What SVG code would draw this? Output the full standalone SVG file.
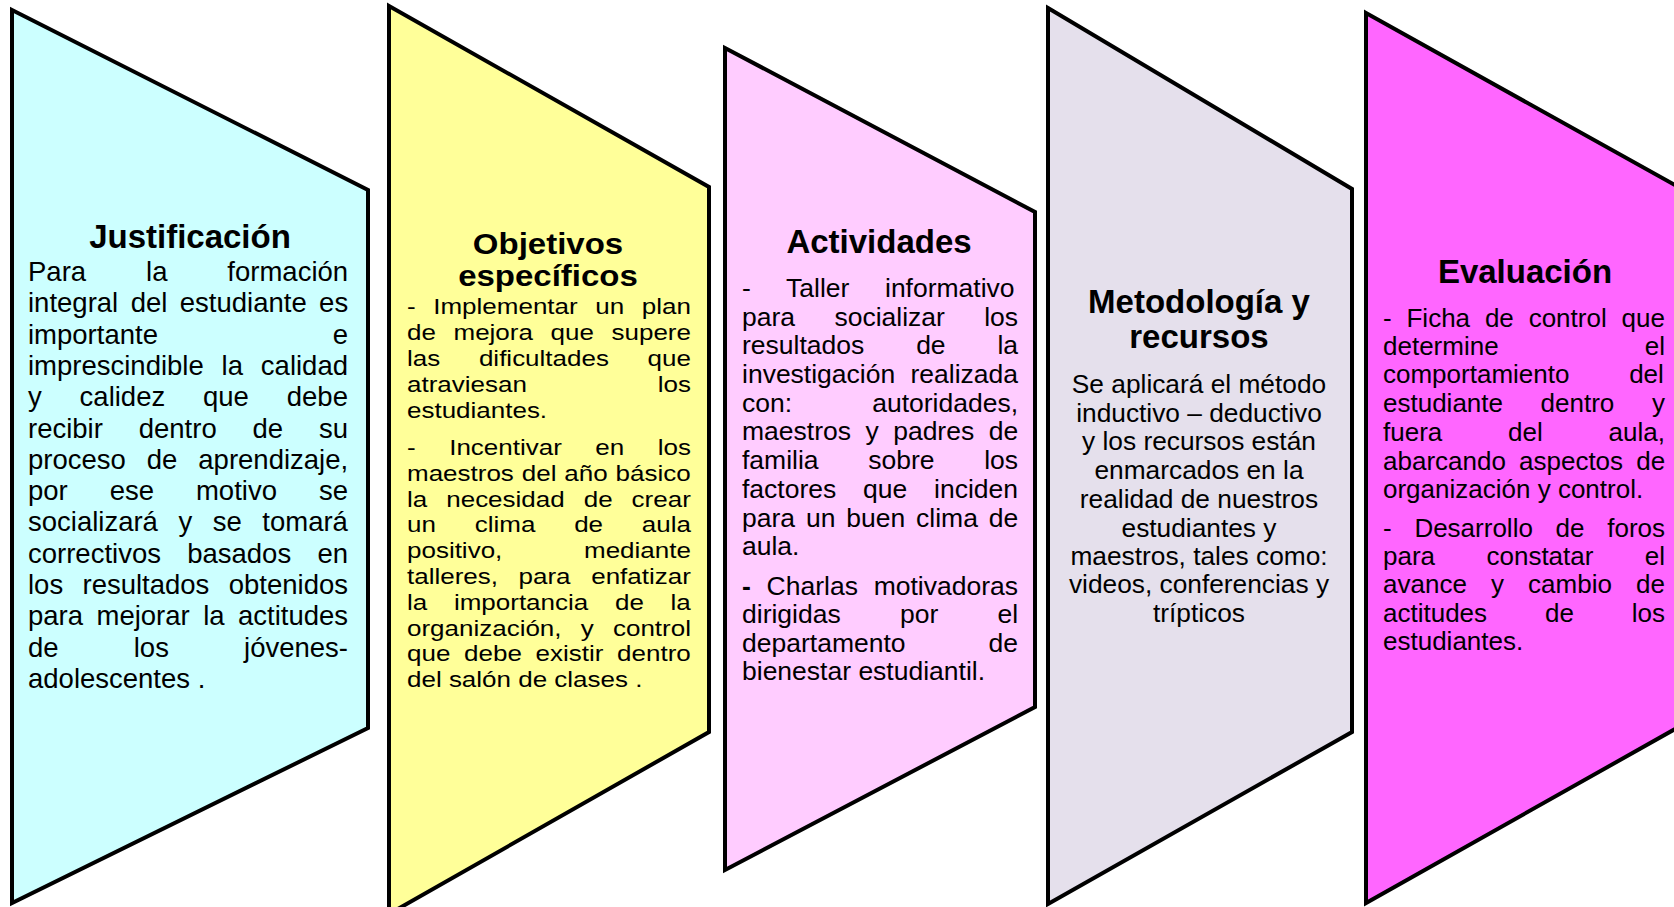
<svg xmlns="http://www.w3.org/2000/svg" width="1674" height="907" viewBox="0 0 1674 907">
<style>
.shape{stroke:#000;stroke-width:4;stroke-linejoin:miter}
.t{font-family:"Liberation Sans",Arial,sans-serif;font-weight:bold;font-size:33px;fill:#000;text-anchor:middle}
.b1{font-family:"Liberation Sans",Arial,sans-serif;font-size:27.5px;fill:#000}
.b2{font-family:"Liberation Sans",Arial,sans-serif;font-size:26px;fill:#000}
.b3{font-family:"Liberation Sans",Arial,sans-serif;font-size:26.5px;fill:#000}
.b4{font-family:"Liberation Sans",Arial,sans-serif;font-size:26.3px;fill:#000;text-anchor:middle}
.b5{font-family:"Liberation Sans",Arial,sans-serif;font-size:26px;fill:#000}
</style>
<rect width="1674" height="907" fill="#fff"/>
<g id="connectors"/>
<g id="justificacion">
<polygon class="shape" fill="#CCFFFF" points="12,10 368,190 368,728 12,903"/>
<text class="t" x="190" y="248">Justificación</text>
<text class="b1" x="28" y="281" word-spacing="52.3">Para la formación</text>
<text class="b1" x="28" y="312.3" word-spacing="4.8">integral del estudiante es</text>
<text class="b1" x="28" y="343.6" word-spacing="167.1">importante e</text>
<text class="b1" x="28" y="374.9" word-spacing="10.2">imprescindible la calidad</text>
<text class="b1" x="28" y="406.2" word-spacing="30.2">y calidez que debe</text>
<text class="b1" x="28" y="437.5" word-spacing="28.2">recibir dentro de su</text>
<text class="b1" x="28" y="468.8" word-spacing="13.3">proceso de aprendizaje,</text>
<text class="b1" x="28" y="500.1" word-spacing="34.3">por ese motivo se</text>
<text class="b1" x="28" y="531.4" word-spacing="12.9">socializará y se tomará</text>
<text class="b1" x="28" y="562.7" word-spacing="18.6">correctivos basados en</text>
<text class="b1" x="28" y="594" word-spacing="11.7">los resultados obtenidos</text>
<text class="b1" x="28" y="625.3" word-spacing="5.8">para mejorar la actitudes</text>
<text class="b1" x="28" y="656.6" word-spacing="67.5">de los jóvenes-</text>
<text class="b1" x="28" y="687.9">adolescentes .</text>
</g>
<g id="objetivos">
<polygon class="shape" fill="#FFFF99" points="389,6 709,187 709,732 389,914"/>
<g transform="matrix(1 0 0 0.88 0 0)">
<text class="t" x="548" y="288.6">Objetivos</text>
<text class="t" x="548" y="325">específicos</text>
</g>
<g transform="matrix(1 0 0 0.85 0 0)">
<text class="b2" x="407" y="369.4" word-spacing="10.4">- Implementar un plan</text>
<text class="b2" x="407" y="400" word-spacing="10.4">de mejora que supere</text>
<text class="b2" x="407" y="430.6" word-spacing="31.5">las dificultades que</text>
<text class="b2" x="407" y="461.2" word-spacing="123.6">atraviesan los</text>
<text class="b2" x="407" y="491.8">estudiantes.</text>
<text class="b2" x="407" y="535.3" word-spacing="26.3">- Incentivar en los</text>
<text class="b2" x="407" y="565.9" word-spacing="0.7">maestros del año básico</text>
<text class="b2" x="407" y="596.5" word-spacing="11.8">la necesidad de crear</text>
<text class="b2" x="407" y="625.9" word-spacing="31.6">un clima de aula</text>
<text class="b2" x="407" y="656.5" word-spacing="74.5">positivo, mediante</text>
<text class="b2" x="407" y="687.1" word-spacing="13.4">talleres, para enfatizar</text>
<text class="b2" x="407" y="717.6" word-spacing="19.5">la importancia de la</text>
<text class="b2" x="407" y="748.2" word-spacing="12">organización, y control</text>
<text class="b2" x="407" y="777.6" word-spacing="6.5">que debe existir dentro</text>
<text class="b2" x="407" y="808.2">del salón de clases .</text>
</g>
</g>
<g id="actividades">
<polygon class="shape" fill="#FFCCFF" points="725,48 1035,212 1035,707 725,870"/>
<text class="t" x="879" y="253">Actividades</text>
<text class="b3" x="742" y="297" word-spacing="28.3">- Taller informativo</text>
<text class="b3" x="742" y="326" word-spacing="32">para socializar los</text>
<text class="b3" x="742" y="354" word-spacing="44.5">resultados de la</text>
<text class="b3" x="742" y="383" word-spacing="7.9">investigación realizada</text>
<text class="b3" x="742" y="412" word-spacing="72.7">con: autoridades,</text>
<text class="b3" x="742" y="440" word-spacing="7.1">maestros y padres de</text>
<text class="b3" x="742" y="469" word-spacing="42.3">familia sobre los</text>
<text class="b3" x="742" y="498" word-spacing="19.4">factores que inciden</text>
<text class="b3" x="742" y="527" word-spacing="3.5">para un buen clima de</text>
<text class="b3" x="742" y="555">aula.</text>
<text class="b3" x="742" y="595" word-spacing="8.4"><tspan font-weight="bold">-</tspan> Charlas motivadoras</text>
<text class="b3" x="742" y="623" word-spacing="51.9">dirigidas por el</text>
<text class="b3" x="742" y="652" word-spacing="75.7">departamento de</text>
<text class="b3" x="742" y="680">bienestar estudiantil.</text>
</g>
<g id="metodologia">
<polygon class="shape" fill="#E5E0EC" points="1048,8 1352,189 1352,732 1048,904"/>
<text class="t" x="1199" y="313">Metodología y</text>
<text class="t" x="1199" y="348">recursos</text>
<text class="b4" x="1199" y="393">Se aplicará el método</text>
<text class="b4" x="1199" y="422">inductivo – deductivo</text>
<text class="b4" x="1199" y="450">y los recursos están</text>
<text class="b4" x="1199" y="479">enmarcados en la</text>
<text class="b4" x="1199" y="508">realidad de nuestros</text>
<text class="b4" x="1199" y="537">estudiantes y</text>
<text class="b4" x="1199" y="565">maestros, tales como:</text>
<text class="b4" x="1199" y="593">videos, conferencias y</text>
<text class="b4" x="1199" y="622">trípticos</text>
</g>
<g id="evaluacion">
<polygon class="shape" fill="#FF66FF" points="1366,13 1700,199 1700,715 1366,903"/>
<text class="t" x="1525" y="283">Evaluación</text>
<text class="b5" x="1383" y="327" word-spacing="7.6">- Ficha de control que</text>
<text class="b5" x="1383" y="355" word-spacing="138.9">determine el</text>
<text class="b5" x="1383" y="383" word-spacing="52.5">comportamiento del</text>
<text class="b5" x="1383" y="412" word-spacing="30.4">estudiante dentro y</text>
<text class="b5" x="1383" y="441" word-spacing="58.6">fuera del aula,</text>
<text class="b5" x="1383" y="470" word-spacing="5.9">abarcando aspectos de</text>
<text class="b5" x="1383" y="498">organización y control.</text>
<text class="b5" x="1383" y="537" word-spacing="15.5">- Desarrollo de foros</text>
<text class="b5" x="1383" y="565" word-spacing="44.2">para constatar el</text>
<text class="b5" x="1383" y="593" word-spacing="16.9">avance y cambio de</text>
<text class="b5" x="1383" y="622" word-spacing="50.7">actitudes de los</text>
<text class="b5" x="1383" y="650">estudiantes.</text>
</g>
</svg>
